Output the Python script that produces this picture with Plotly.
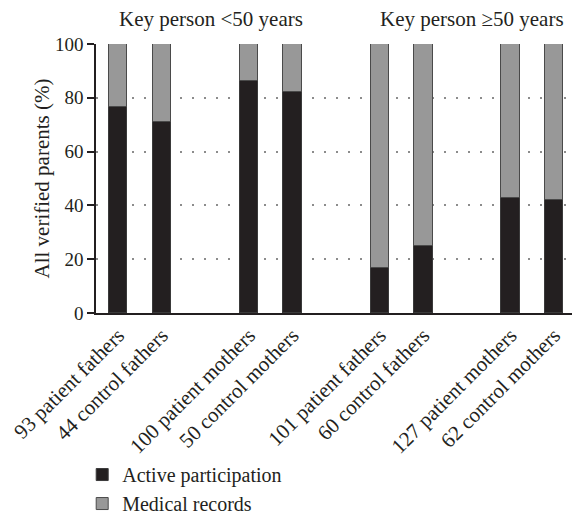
import plotly.graph_objects as go

categories = ["93 patient fathers", "44 control fathers", "100 patient mothers", "50 control mothers",
              "101 patient fathers", "60 control fathers", "127 patient mothers", "62 control mothers"]
positions = [0, 1, 3, 4, 6, 7, 9, 10]
active = [76.4, 70.9, 86.3, 82.1, 16.9, 24.9, 42.8, 41.9]
medical = [100 - a for a in active]
group_titles = ["Key person <50 years", "Key person \u226550 years"]
group_centers = [2.13, 8.12]

FONT = "Liberation Serif"
fig = go.Figure()
fig.add_trace(go.Bar(x=positions, y=active, name="Active participation", width=0.42,
                     marker=dict(color="#231f20", line=dict(color="#3a3a3a", width=1))))
fig.add_trace(go.Bar(x=positions, y=medical, name="Medical records", width=0.42,
                     marker=dict(color="#989898", line=dict(color="#4a4a4a", width=1))))

for t, c in zip(group_titles, group_centers):
    fig.add_annotation(x=c, y=1, xref="x", yref="paper", yanchor="bottom", yshift=11,
                       text=t, showarrow=False, font=dict(family=FONT, size=21, color="#231f20"))

fig.update_layout(
    barmode="stack",
    width=572, height=517,
    margin=dict(l=96, r=0, t=44, b=204, autoexpand=False),
    paper_bgcolor="white", plot_bgcolor="white",
    font=dict(family=FONT, size=21, color="#231f20"),
    showlegend=True,
    legend=dict(orientation="v", x=-0.029, xanchor="left", y=-0.528, yanchor="top",
                font=dict(family=FONT, size=20, color="#231f20"), tracegroupgap=0,
                traceorder="normal", itemwidth=30),
    xaxis=dict(range=[-0.51, 10.41], tickvals=positions, ticktext=categories, tickangle=-45,
               showline=True, linecolor="#231f20", linewidth=1.5, ticks="", showgrid=False,
               zeroline=False, tickfont=dict(family=FONT, size=21), automargin=False),
    yaxis=dict(range=[0, 100], tickvals=[0, 20, 40, 60, 80, 100], showline=True,
               linecolor="#231f20", linewidth=1.5, ticks="outside", ticklen=7,
               tickcolor="#231f20", tickwidth=1.5,
               showgrid=True, gridcolor="#8c8c8c", gridwidth=1.5, griddash="2px,10px",
               zeroline=False, automargin=False,
               title=dict(text="All verified parents (%)", standoff=0,
                          font=dict(family=FONT, size=21)),
               tickfont=dict(family=FONT, size=19)),
    bargap=0,
)
fig.write_html("out.html", config={"displayModeBar": False},
               post_script="document.body.style.margin='0';")
